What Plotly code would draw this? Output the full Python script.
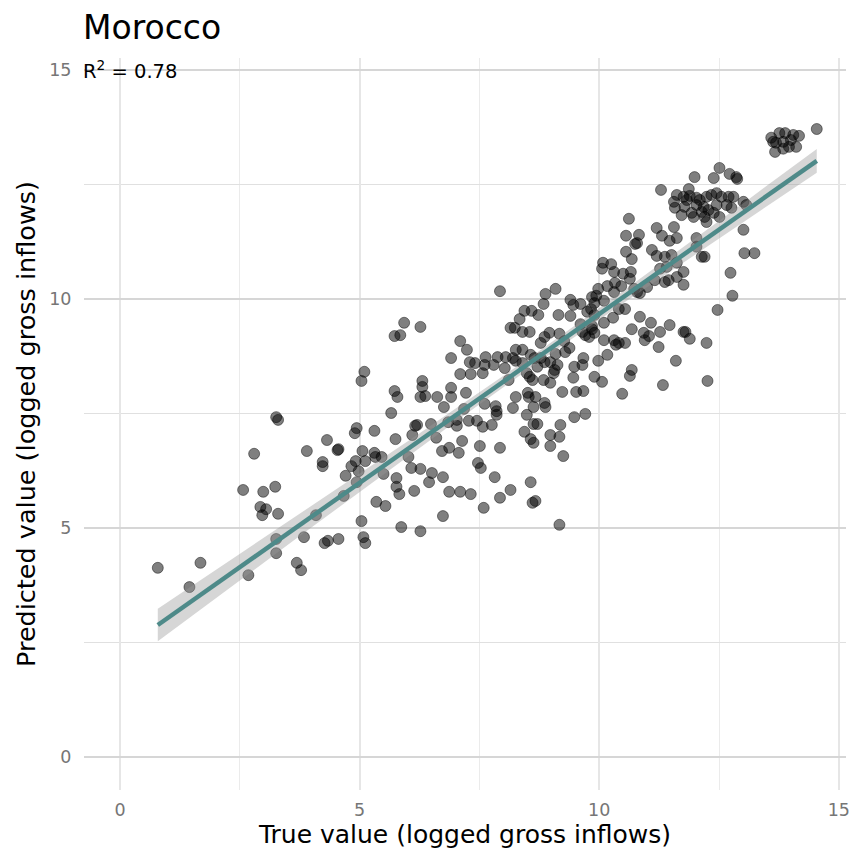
import numpy as np
import plotly.graph_objects as go

title_text = "Morocco"
x_label = "True value (logged gross inflows)"
y_label = "Predicted value (logged gross inflows)"
r2_label = "R<sup>2</sup> = 0.78"
tick_vals = [0, 5, 10, 15]
tick_text = ["0", "5", "10", "15"]

# fitted lm line
fit_intercept = 2.30
fit_slope = 0.737

true_value = [
    0.79, 1.68, 1.45, 2.68, 3.26, 3.26, 3.69, 3.78, 3.84, 4.27, 4.34, 4.56, 5.04, 5.08, 5.12,
    2.80, 2.57, 2.99, 3.24, 2.93, 3.05, 2.97, 3.30, 3.26, 3.30, 3.90, 4.32, 4.54, 4.23, 4.23,
    4.94, 4.90, 5.06, 4.92, 4.83, 4.98, 5.12, 4.71, 4.67, 4.09, 4.94,
    5.93, 6.27, 5.73, 5.85, 7.10, 7.24, 6.91, 7.30, 7.41, 7.63, 7.88, 8.05, 7.61, 7.80, 8.03,
    7.10, 7.32, 7.57, 5.10, 5.04, 6.31, 6.31, 5.73, 5.79, 6.27, 6.37, 6.62, 6.91, 6.91, 6.76,
    7.22, 7.61, 7.84, 7.86, 7.86, 7.18, 5.66, 5.31, 6.20, 6.16, 6.49, 6.10, 5.75, 6.85, 7.03,
    7.03, 7.28, 7.45, 7.57, 7.76, 6.60, 7.14, 6.87, 6.72, 7.07, 7.51, 7.93, 4.56, 5.31, 5.33,
    5.46, 5.50, 6.02, 6.08, 6.27, 6.51, 6.45, 6.74, 7.47, 7.53, 7.82, 5.77, 5.77, 5.83, 6.14,
    6.87, 7.10, 7.32, 7.93, 7.59, 5.35, 5.54, 6.74, 5.87, 6.27,
    10.56, 10.83, 10.75, 10.56, 10.68, 10.08, 10.25, 10.06, 10.31, 10.50, 10.66, 10.64, 7.93,
    9.09, 8.88, 10.17, 10.33, 10.46, 10.31, 9.98, 9.94, 10.10, 10.73, 10.85, 9.40, 9.46, 9.61,
    8.84, 8.44, 8.59, 8.73, 9.15, 9.40, 8.34, 9.90, 9.83, 9.90, 9.75, 10.41, 10.54, 10.85,
    10.29, 10.10, 9.85, 9.85, 9.90, 9.71, 9.65, 9.61, 9.79, 8.15, 8.24, 8.40, 8.55, 10.68,
    8.96, 8.86, 9.17, 8.78, 9.27, 10.10, 10.31, 10.35, 10.41, 10.54, 10.93, 10.95, 9.38, 9.29,
    9.09, 8.98, 8.26, 8.40, 8.20, 8.26, 8.57, 8.65, 8.78, 8.86, 8.40, 8.71, 9.13, 9.07, 9.05,
    9.67, 9.65, 9.48, 9.98, 10.17, 10.68, 10.64, 9.46, 9.90, 10.06, 8.49, 8.55, 8.61, 8.84,
    8.98, 8.11, 9.23, 9.52, 9.67, 10.48, 8.26, 8.51, 8.53, 8.67, 8.86, 8.88, 8.20, 8.49, 8.63,
    9.48, 9.71, 8.63, 8.71, 9.19, 8.44, 8.57, 8.63, 8.98, 9.17, 8.98,
    9.25, 8.15, 8.57, 8.61, 8.67, 9.17,
    14.54, 13.63, 13.76, 13.88, 14.05, 14.17, 14.11, 13.96, 13.84, 13.67, 13.69, 13.84, 13.59,
    14.00, 12.51, 12.72, 12.86, 12.88, 11.99, 12.39, 11.29, 11.87,
    11.62, 11.56, 11.76, 11.83, 11.89, 12.03, 12.10, 12.24, 12.34, 12.45, 12.55, 12.70, 12.80,
    13.01, 13.07, 11.58, 11.78, 11.93, 11.97, 12.18, 12.28, 12.20, 12.39, 12.51, 12.76, 12.24,
    12.03, 12.45, 12.14, 12.66, 11.72,
    13.01, 11.20, 11.31, 11.47, 11.56, 11.62, 12.03, 12.03, 10.79, 11.10, 11.20, 11.37, 11.51,
    12.14, 12.20, 13.03, 13.24, 12.74, 11.62, 11.41, 11.27, 11.45, 11.37, 11.16, 11.62, 11.76,
    11.76, 11.00, 10.79, 12.78, 12.47, 10.62, 9.85,
    11.08, 11.27, 11.47, 11.76, 11.80, 11.89, 12.24, 11.04, 11.24, 11.60, 11.33, 12.26,
]

predicted_value = [
    4.13, 4.24, 3.71, 3.97, 4.45, 4.76, 4.24, 4.08, 4.80, 4.67, 4.72, 4.76, 5.15, 4.80, 4.67,
    6.62, 5.83, 5.79, 5.90, 5.46, 5.41, 5.28, 5.31, 7.42, 7.36, 6.68, 6.92, 6.70, 6.44, 6.35,
    7.18, 7.07, 6.68, 6.46, 6.35, 6.24, 6.46, 6.14, 5.70, 5.28, 6.00,
    9.48, 9.39, 9.19, 9.21, 9.08, 8.89, 8.71, 8.62, 8.60, 8.73, 8.73, 8.73, 8.56, 8.56, 8.49,
    8.36, 8.36, 8.38, 8.41, 8.21, 8.21, 8.08, 7.99, 7.86, 7.86, 7.88, 7.86, 7.86, 8.06, 7.64,
    7.95, 7.71, 7.66, 7.55, 7.47, 7.60, 7.51, 7.12, 7.25, 7.23, 7.27, 7.03, 6.94, 7.31, 7.23,
    7.36, 7.34, 7.34, 7.21, 7.25, 6.97, 6.90, 6.75, 6.68, 6.64, 6.79, 6.75, 6.72, 6.64, 6.55,
    6.55, 6.18, 6.55, 6.31, 6.29, 6.20, 6.00, 6.11, 6.42, 6.31, 6.11, 6.09, 5.90, 5.74, 5.81,
    5.79, 5.79, 5.74, 5.66, 5.44, 5.57, 5.48, 5.26, 5.02, 4.93,
    11.38, 11.40, 11.20, 11.03, 10.87, 10.79, 10.76, 10.66, 10.59, 10.55, 10.59, 10.44, 10.17,
    10.22, 10.11, 10.28, 10.35, 10.28, 10.15, 10.22, 10.07, 9.96, 10.22, 10.13, 9.98, 9.87, 9.89,
    9.89, 9.74, 9.74, 9.65, 9.65, 9.63, 9.56, 9.91, 9.78, 9.65, 9.72, 9.78, 9.78, 9.61,
    9.59, 9.48, 9.41, 9.34, 9.26, 9.21, 9.28, 9.45, 9.17, 9.37, 9.37, 9.28, 9.28, 9.34,
    9.26, 9.17, 9.24, 9.04, 9.08, 9.10, 9.10, 9.00, 9.04, 9.04, 9.26, 9.10, 8.93, 8.84,
    8.80, 8.62, 8.89, 8.89, 8.71, 8.65, 8.78, 8.71, 8.71, 8.62, 8.60, 8.52, 8.56, 8.45, 8.38,
    8.71, 8.56, 8.52, 8.65, 8.78, 8.45, 8.32, 8.28, 8.30, 8.19, 8.38, 8.30, 8.23, 8.23,
    8.17, 8.23, 7.97, 7.97, 7.99, 7.93, 7.86, 7.95, 7.86, 7.86, 7.73, 7.64, 7.62, 7.47, 7.64,
    7.42, 7.49, 7.27, 7.27, 7.25, 7.10, 6.94, 6.86, 7.03, 6.99, 6.79,
    6.57, 5.83, 6.00, 5.55, 5.59, 5.07,
    13.71, 13.43, 13.62, 13.62, 13.58, 13.56, 13.32, 13.32, 13.28, 13.21, 13.41, 13.43, 13.52,
    13.47, 12.86, 12.73, 12.66, 12.62, 12.66, 12.64, 12.38, 12.40,
    12.27, 12.12, 12.23, 12.16, 12.25, 12.21, 12.16, 12.23, 12.27, 12.31, 12.23, 12.23, 12.23,
    12.12, 12.05, 11.99, 12.01, 11.88, 11.79, 12.01, 11.94, 11.79, 11.88, 11.79, 11.99, 11.68,
    12.05, 12.05, 11.90, 12.05, 11.83,
    11.51, 11.55, 11.38, 11.27, 11.57, 11.33, 11.33, 11.14, 11.22, 11.07, 10.94, 10.92, 10.96,
    10.92, 10.92, 11.00, 11.00, 10.57, 10.79, 10.70, 10.66, 10.41, 10.37, 10.41, 10.48, 10.59,
    10.31, 10.26, 10.15, 10.07, 9.76, 11.75, 10.04,
    9.48, 9.28, 9.43, 9.28, 9.28, 9.13, 9.04, 9.19, 8.95, 8.65, 8.12, 8.21,
]

x = np.array(true_value)
y = np.array(predicted_value)

# 95% confidence band around the fitted line (as geom_smooth(method = "lm"))
n = len(x)
resid = y - (fit_intercept + fit_slope * x)
s = np.sqrt(np.sum(resid ** 2) / (n - 2))
xbar = x.mean()
sxx = np.sum((x - xbar) ** 2)
xs = np.linspace(x.min(), x.max(), 80)
fit = fit_intercept + fit_slope * xs
se = s * np.sqrt(1.0 / n + (xs - xbar) ** 2 / sxx)
tcrit = 1.967
lower = fit - tcrit * se
upper = fit + tcrit * se

fig = go.Figure()
fig.add_trace(go.Scatter(
    x=x, y=y, mode="markers",
    marker=dict(size=11, color="rgba(0,0,0,0.5)",
                line=dict(color="rgba(0,0,0,0.45)", width=1)),
    hoverinfo="x+y", showlegend=False,
))
fig.add_trace(go.Scatter(
    x=np.concatenate([xs, xs[::-1]]), y=np.concatenate([upper, lower[::-1]]),
    fill="toself", fillcolor="rgba(153,153,153,0.4)", line=dict(width=0),
    mode="lines", hoverinfo="skip", showlegend=False,
))
fig.add_trace(go.Scatter(
    x=xs, y=fit, mode="lines", line=dict(color="#4E8A89", width=4.5),
    hoverinfo="skip", showlegend=False,
))

font_family = "DejaVu Sans, Open Sans, sans-serif"

fig.update_layout(
    width=856, height=857,
    paper_bgcolor="white", plot_bgcolor="white",
    margin=dict(l=84, r=6, t=58, b=67),
    font=dict(family=font_family, color="black"),
    xaxis=dict(
        range=[-0.75, 15.15], tickvals=tick_vals, ticktext=tick_text,
        showgrid=True, gridcolor="#e6e6e6", gridwidth=1.8,
        minor=dict(tickvals=[2.5, 7.5, 12.5], showgrid=True, gridcolor="#ebebeb", gridwidth=1.2),
        zeroline=False, showline=False,
        ticks="outside", ticklen=4, tickcolor="rgba(0,0,0,0)",
        tickfont=dict(size=17.5, color="#767676"),
        title=dict(text=x_label, font=dict(size=25, color="black"), standoff=5),
    ),
    yaxis=dict(
        range=[-0.72, 15.26], tickvals=tick_vals, ticktext=tick_text,
        showgrid=True, gridcolor="#d6d6d6", gridwidth=1.6,
        minor=dict(tickvals=[2.5, 7.5, 12.5], showgrid=True, gridcolor="#e0e0e0", gridwidth=1.1),
        zeroline=False, showline=False,
        ticks="outside", ticklen=8, tickcolor="rgba(0,0,0,0)",
        tickfont=dict(size=17.5, color="#767676"),
        title=dict(text=y_label, font=dict(size=25.5, color="black"), standoff=6),
    ),
    annotations=[
        dict(text=title_text, x=0, xref="paper", xanchor="left", xshift=-3,
             y=1, yref="paper", yanchor="middle", yshift=31, showarrow=False,
             font=dict(size=33, color="black")),
        dict(text=r2_label, x=0, xref="paper", xanchor="left", xshift=-3,
             y=15, yref="y", yanchor="middle", showarrow=False,
             font=dict(size=19.5, color="black")),
    ],
)

fig.write_html("out.html", config={"displayModeBar": False},
               post_script="document.body.style.margin='0px';")
